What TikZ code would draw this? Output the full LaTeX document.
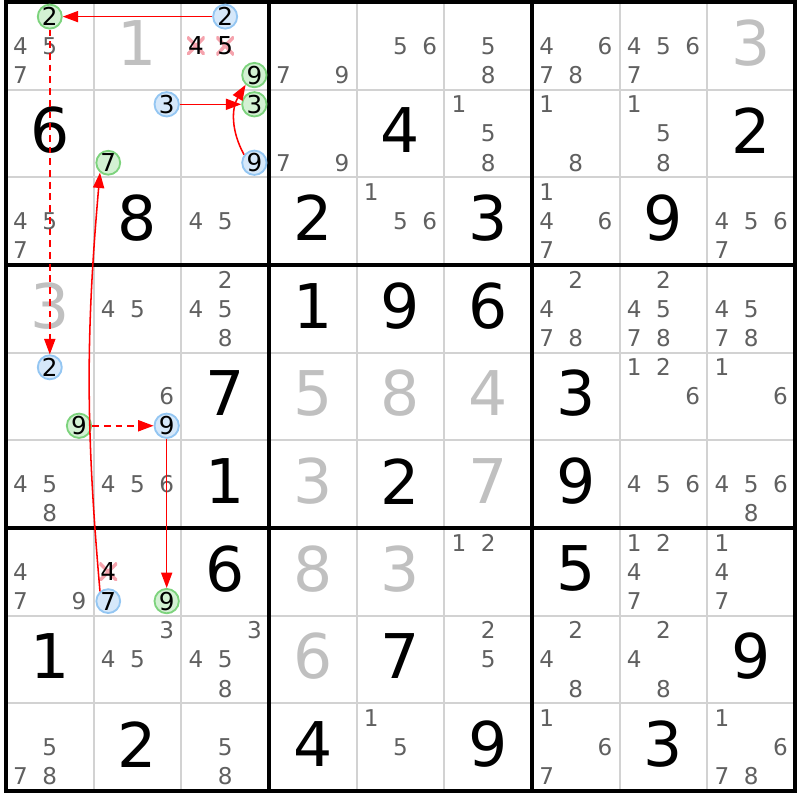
\documentclass[tikz,border=0pt]{standalone}
\usepackage{fontspec}
\setmainfont{DejaVu Sans}
\usetikzlibrary{arrows.meta}
\definecolor{candgrey}{HTML}{606060}
\definecolor{fadegrey}{HTML}{C0C0C0}
\definecolor{gridgrey}{HTML}{D2D2D2}
\definecolor{onfill}{HTML}{D3F1D3}
\definecolor{online}{HTML}{7DD37D}
\definecolor{offfill}{HTML}{D6E8FA}
\definecolor{offline}{HTML}{94C6F2}
\definecolor{crossred}{HTML}{F5A3AD}
\tikzset{
    cand/.style={font=\fontsize{7.5}{9}\selectfont, text=candgrey, inner sep=0pt},
    ongreen/.style={circle, draw=online, fill=onfill, line width=0.6pt, minimum size=0.25cm,
        inner sep=0pt, font=\fontsize{8}{9}\selectfont, text=black},
    onblue/.style={ongreen, draw=offline, fill=offfill},
    struck/.style={minimum size=0.2cm, inner sep=0pt, font=\fontsize{8}{9}\selectfont, text=black,
        path picture={\draw[crossred, line width=1.1pt]
            (path picture bounding box.south west) -- (path picture bounding box.north east)
            (path picture bounding box.north west) -- (path picture bounding box.south east);}},
    bigdigit/.style={font=\fontsize{20}{24}\selectfont, inner sep=0pt, yshift=1pt},
    fadedigit/.style={bigdigit, text=fadegrey},
    strongarc/.style={red, line width=0.5pt, -{Triangle[length=5pt,width=3.6pt]}},
    weakarc/.style={strongarc, dash pattern=on 2.2pt off 1.6pt}
}
\begin{document}
    \begin{tikzpicture}
        \useasboundingbox (-0.068,0.023) rectangle (9.057,-9.102);

        \foreach \i in {1,2,4,5,7,8} {
            \draw[gridgrey, line width=0.65pt] (\i,0) -- (\i,-9);
            \draw[gridgrey, line width=0.65pt] (0,-\i) -- (9,-\i);
        }
        \foreach \i in {0,3,6,9} {
            \draw[line width=1.1pt] (\i,0.019) -- (\i,-9.019);
            \draw[line width=1.1pt] (-0.019,-\i) -- (9.019,-\i);
        }

        \foreach \r/\c/\d in {2/1/6, 3/2/8, 3/4/2, 3/6/3, 3/8/9, 2/5/4, 2/9/2, 4/4/1, 4/5/9, 4/6/6,
            5/3/7, 5/7/3, 6/3/1, 6/5/2, 6/7/9, 7/3/6, 7/7/5, 8/1/1, 8/5/7, 8/9/9,
            9/2/2, 9/4/4, 9/6/9, 9/8/3}
            \node[bigdigit] (g\r\c) at (\c-0.5,-\r+0.5) {\d};
        \foreach \r/\c/\d in {1/2/1, 1/9/3, 4/1/3, 5/4/5, 5/5/8, 5/6/4, 6/4/3, 6/6/7, 7/4/8, 7/5/3, 8/4/6}
            \node[fadedigit] (g\r\c) at (\c-0.5,-\r+0.5) {\d};

        \foreach \r/\c/\ds in {1/1/{4,5,7}, 1/4/{7,9}, 1/5/{5,6}, 1/6/{5,8}, 1/7/{4,6,7,8}, 1/8/{4,5,6,7},
            2/4/{7,9}, 2/6/{1,5,8}, 2/7/{1,8}, 2/8/{1,5,8},
            3/1/{4,5,7}, 3/3/{4,5}, 3/5/{1,5,6}, 3/7/{1,4,6,7}, 3/9/{4,5,6,7},
            4/2/{4,5}, 4/3/{2,4,5,8}, 4/7/{2,4,7,8}, 4/8/{2,4,5,7,8}, 4/9/{4,5,7,8},
            5/2/{6}, 5/8/{1,2,6}, 5/9/{1,6},
            6/1/{4,5,8}, 6/2/{4,5,6}, 6/8/{4,5,6}, 6/9/{4,5,6,8},
            7/1/{4,7,9}, 7/6/{1,2}, 7/8/{1,2,4,7}, 7/9/{1,4,7},
            8/2/{3,4,5}, 8/3/{3,4,5,8}, 8/6/{2,5}, 8/7/{2,4,8}, 8/8/{2,4,8},
            9/1/{5,7,8}, 9/3/{5,8}, 9/5/{1,5}, 9/7/{1,6,7}, 9/9/{1,6,7,8}} {
            \foreach \d in \ds {
                \pgfmathsetmacro\px{\c-1+(2*mod(\d-1,3)+1)/6}
                \pgfmathsetmacro\py{-(\r-1)-(2*int((\d-1)/3)+1)/6}
                \node[cand] (n\r\c\d) at (\px,\py) {\d};
            }
        }

        \foreach \r/\c/\d/\look in {1/1/2/ongreen, 1/3/2/onblue, 1/3/4/struck, 1/3/5/struck, 1/3/9/ongreen,
            2/2/3/onblue, 2/2/7/ongreen, 2/3/3/ongreen, 2/3/9/onblue,
            5/1/2/onblue, 5/1/9/ongreen, 5/2/9/onblue,
            7/2/4/struck, 7/2/7/onblue, 7/2/9/ongreen} {
            \pgfmathsetmacro\px{\c-1+(2*mod(\d-1,3)+1)/6}
            \pgfmathsetmacro\py{-(\r-1)-(2*int((\d-1)/3)+1)/6}
            \node[\look] (n\r\c\d) at (\px,\py) {\d};
        }

        \draw[strongarc] (n132) -- (n112);
        \draw[weakarc] (n112) -- (n512);
        \draw[strongarc] (n223) -- (n233);
        \draw[strongarc] (n239.142) to[bend left=30] (n139.228);
        \draw[strongarc] (n727.130) to[bend left=5] (n227.230);
        \draw[weakarc] (n519) -- (n529);
        \draw[strongarc] (n529) -- (n729);
    \end{tikzpicture}
\end{document}
